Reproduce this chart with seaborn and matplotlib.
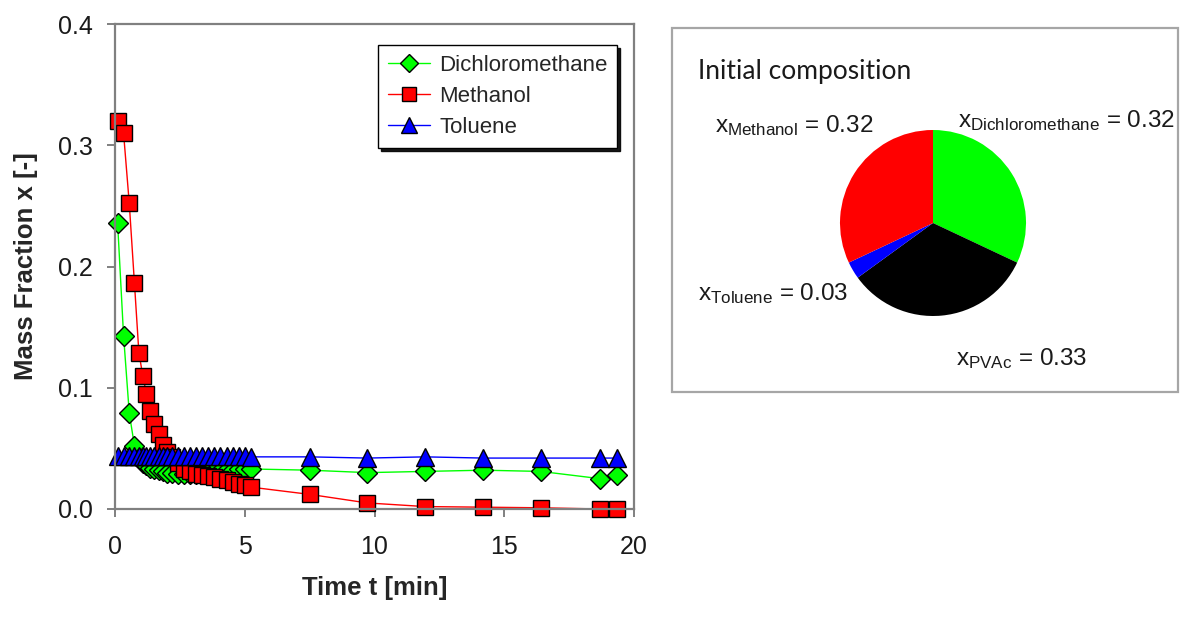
import numpy as np
import pandas as pd
import matplotlib
matplotlib.use("Agg")
import matplotlib.pyplot as plt
from matplotlib.patches import Rectangle
import seaborn as sns

# ---------------- data ----------------
time_min = [0.10, 0.33, 0.55, 0.75, 0.92, 1.07, 1.21, 1.36, 1.52, 1.68, 1.85, 2.02, 2.20,
            2.42, 2.65, 2.88, 3.12, 3.36, 3.60, 3.83, 4.06, 4.30, 4.54, 4.78, 5.00, 5.25,
            7.52, 9.72, 11.95, 14.20, 16.40, 18.70, 19.35]
dichloromethane = [0.236, 0.143, 0.079, 0.052, 0.042, 0.038, 0.036, 0.034, 0.033, 0.032, 0.031,
                   0.030, 0.030, 0.029, 0.029, 0.029, 0.029, 0.030, 0.030, 0.031, 0.031, 0.032,
                   0.032, 0.033, 0.033, 0.033, 0.032, 0.030, 0.031, 0.032, 0.031, 0.025, 0.028]
methanol = [0.320, 0.310, 0.252, 0.186, 0.129, 0.110, 0.095, 0.081, 0.070, 0.062, 0.053, 0.047,
            0.043, 0.038, 0.033, 0.031, 0.029, 0.028, 0.027, 0.026, 0.025, 0.024, 0.022, 0.021,
            0.020, 0.018, 0.012, 0.005, 0.002, 0.0015, 0.001, 0.0, 0.0]
toluene = [0.044, 0.044, 0.044, 0.044, 0.044, 0.044, 0.044, 0.044, 0.044, 0.044, 0.044, 0.044,
           0.044, 0.044, 0.044, 0.044, 0.044, 0.044, 0.044, 0.044, 0.044, 0.044, 0.044, 0.044,
           0.044, 0.043, 0.043, 0.042, 0.043, 0.042, 0.042, 0.042, 0.042]

series_names = ["Dichloromethane", "Methanol", "Toluene"]
series_values = [dichloromethane, methanol, toluene]
series_colors = ["#00ff00", "#ff0000", "#0000ff"]
series_markers = ["D", "s", "^"]
series_msize = [10.5, 12, 13]

x_ticks = [0, 5, 10, 15, 20]
y_ticks = [0.0, 0.1, 0.2, 0.3, 0.4]
y_tick_labels = ["0.0", "0.1", "0.2", "0.3", "0.4"]

pie_labels = ["Dichloromethane", "PVAc", "Toluene", "Methanol"]
pie_values = [0.32, 0.33, 0.03, 0.32]
pie_colors = ["#00ff00", "#000000", "#0000ff", "#ff0000"]

# ---------------- style ----------------
sns.set_theme(style="white")
plt.rcParams["font.family"] = ["Liberation Sans", "DejaVu Sans"]
plt.rcParams["mathtext.fontset"] = "custom"
plt.rcParams["mathtext.rm"] = "Liberation Sans"
plt.rcParams["mathtext.it"] = "Liberation Sans"

W, H = 1185, 617
fig = plt.figure(figsize=(W / 100, H / 100), dpi=100)
fig.patch.set_facecolor("white")

def fx(px):
    return px / W

def fy(py):
    return 1 - py / H

# main axes: left 115, right 634, top 24, bottom 509
ax = fig.add_axes([fx(115), fy(509), fx(634) - fx(115), fy(24) - fy(509)])

df = pd.DataFrame({"t": time_min})
for name, vals, col, mk, ms in zip(series_names, series_values, series_colors,
                                    series_markers, series_msize):
    df[name] = vals
    sns.lineplot(data=df, x="t", y=name, ax=ax, color=col, marker=mk, markersize=ms,
                 markeredgecolor="black", markeredgewidth=1.0, linewidth=1.0,
                 estimator=None, sort=False, label=name, clip_on=False)

ax.set_xlim(0, 20)
ax.set_ylim(0, 0.4)
ax.set_xticks(x_ticks)
ax.set_xticklabels([str(v) for v in x_ticks])
ax.set_yticks(y_ticks)
ax.set_yticklabels(y_tick_labels)
ax.tick_params(axis="both", which="major", direction="out", length=6, width=1.4,
               color="#808080", labelsize=18, labelcolor="#1a1a1a", bottom=True, left=True)
ax.tick_params(axis="x", pad=13)
ax.tick_params(axis="y", pad=10)
for sp in ax.spines.values():
    sp.set_visible(True)
    sp.set_color("#808080")
    sp.set_linewidth(1.6)
ax.set_xlabel("Time t [min]", fontsize=18.5, fontweight="bold", labelpad=12)
ax.set_ylabel("Mass Fraction x [-]", fontsize=18.5, fontweight="bold", labelpad=14)
ax.grid(False)

leg = ax.legend(loc="upper left", bbox_to_anchor=((378 - 115) / 519, (509 - 45) / 485),
                borderaxespad=0, fontsize=16, frameon=True, fancybox=False,
                shadow={"color": "black", "alpha": 0.9}, handlelength=1.9,
                handletextpad=0.4, borderpad=0.45, labelspacing=0.45)
leg.get_frame().set_edgecolor("black")
leg.get_frame().set_linewidth(1.0)
for h in leg.legend_handles:
    h.set_markersize(h.get_markersize() * 0.85)

# ---------------- pie panel ----------------
box_ax = fig.add_axes([0, 0, 1, 1], zorder=-1)
box_ax.set_xlim(0, W)
box_ax.set_ylim(H, 0)
box_ax.axis("off")
box_ax.add_patch(Rectangle((672, 28), 1178 - 672, 392 - 28, fill=False,
                           edgecolor="#a6a6a6", linewidth=1.6))

r = 93
cx, cy = 933, 223
pie_ax = fig.add_axes([fx(cx - r), fy(cy + r), (2 * r) / W, (2 * r) / H])
pie_ax.pie(pie_values, colors=pie_colors, startangle=90, counterclock=False,
           radius=1.0, wedgeprops={"edgecolor": "none", "linewidth": 0})
pie_ax.set_xlim(-1.0, 1.0)
pie_ax.set_ylim(-1.0, 1.0)
pie_ax.set_aspect("equal")
pie_ax.axis("off")

fig.text(fx(698), fy(72), "Initial composition", fontsize=19, family=["Lato", "DejaVu Sans"],
         ha="left", va="center", color="#1a1a1a")

def comp_label(px, py, name, value):
    fig.text(fx(px), fy(py), r"$\mathregular{x_{%s}}$ = %.2f" % (name, value),
             fontsize=17.5, ha="left", va="center", color="#1a1a1a")

comp_label(715, 126, "Methanol", pie_values[3])
comp_label(958, 121, "Dichloromethane", pie_values[0])
comp_label(698, 294, "Toluene", pie_values[2])
comp_label(956, 359, "PVAc", pie_values[1])

fig.savefig("out.png", dpi=100, facecolor="white")
